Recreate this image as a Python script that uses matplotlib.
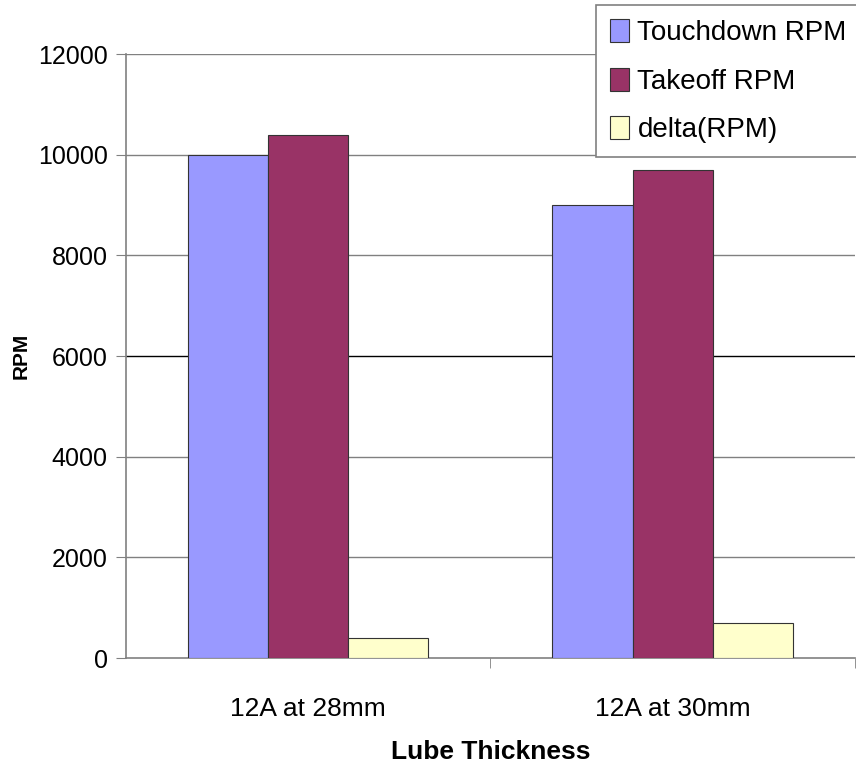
import matplotlib.pyplot as plt
import numpy as np
from matplotlib.ticker import FixedLocator

plt.rcParams['font.family'] = ['Liberation Sans', 'DejaVu Sans']

categories = ['12A at 28mm', '12A at 30mm']
touchdown = [10000, 9000]
takeoff = [10400, 9700]
delta = [400, 700]
series_names = ['Touchdown RPM', 'Takeoff RPM', 'delta(RPM)']
colors = ['#9999FF', '#993366', '#FFFFCC']

fig = plt.figure(figsize=(8.56, 7.63), dpi=100)
ax = fig.add_axes([0.147, 0.1376, 0.852, 0.7916])

x = np.arange(len(categories))
w = 0.22
for i, (vals, name, c) in enumerate(zip([touchdown, takeoff, delta], series_names, colors)):
    ax.bar(x + (i - 1) * w, vals, w, color=c, edgecolor='#333333', linewidth=0.8,
           label=name, zorder=3)

ax.set_xlim(-0.5, 1.5)
ax.set_ylim(0, 12000)
ax.set_yticks(np.arange(0, 12001, 2000))
# gridlines, the middle one drawn darker
for yv in np.arange(2000, 12001, 2000):
    ax.axhline(yv, color='#000000' if yv == 6000 else '#808080', linewidth=1.0, zorder=1)

ax.set_xticks(x)
ax.set_xticklabels(categories, fontsize=19)
ax.xaxis.set_minor_locator(FixedLocator([0.5, 1.5]))
ax.tick_params(axis='x', which='major', length=0, pad=28)
ax.tick_params(axis='x', which='minor', length=7, color='#808080', direction='out')
ax.tick_params(axis='y', length=7, color='#808080', labelsize=18, pad=6)

for s in ['top', 'right']:
    ax.spines[s].set_visible(False)
for s in ['left', 'bottom']:
    ax.spines[s].set_color('#808080')
    ax.spines[s].set_linewidth(1.2)

ax.set_ylabel('RPM', fontsize=15, fontweight='bold')
ax.yaxis.set_label_coords(-0.13, 0.5)
ax.set_xlabel('Lube Thickness', fontsize=19, fontweight='bold')
ax.xaxis.set_label_coords(0.5, -0.135)

leg = fig.legend(loc='upper left', bbox_to_anchor=(0.696, 0.993), fontsize=20,
                 frameon=True, fancybox=False, edgecolor='#808080', framealpha=1,
                 handlelength=0.7, handleheight=0.9, handletextpad=0.3,
                 labelspacing=0.77, borderpad=0.5, borderaxespad=0)
leg.get_frame().set_linewidth(1.2)

fig.savefig('out.png', dpi=100)
